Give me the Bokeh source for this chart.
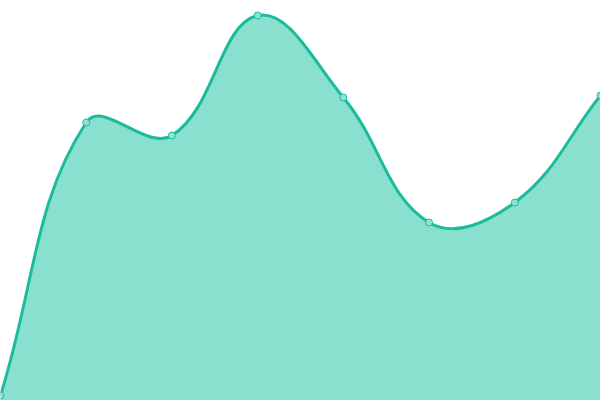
import math
import numpy as np
from bokeh.plotting import figure
from bokeh.models import Range1d, ColumnDataSource
from bokeh.embed import file_html
from bokeh.resources import INLINE

# ---- data ----
x_values = [0, 1, 2, 3, 4, 5, 6, 7]
y_values = [1.25, 69.5, 66.25, 96.25, 75.75, 44.5, 49.5, 76.25]

# ---- layout / style ----
W, H = 600, 400
X0, X1 = 0, 7
Y0, Y1 = 0, 100
TENSION = 0.4
LINE_COLOR = "#1abc9c"
FILL_COLOR = "#8ae0cf"
POINT_FILL = "#90e2d2"


def to_px(x, y):
    return ((x - X0) / (X1 - X0) * W, (y - Y0) / (Y1 - Y0) * H)


def to_data(px, py):
    return (X0 + px / W * (X1 - X0), Y0 + py / H * (Y1 - Y0))


pts = [to_px(x, y) for x, y in zip(x_values, y_values)]
n = len(pts)
cp_prev, cp_next = [], []
for i in range(n):
    prev = pts[i - 1] if i > 0 else pts[i]
    cur = pts[i]
    nxt = pts[i + 1] if i < n - 1 else pts[i]
    d01 = math.hypot(cur[0] - prev[0], cur[1] - prev[1])
    d12 = math.hypot(nxt[0] - cur[0], nxt[1] - cur[1])
    s = d01 + d12
    s01 = d01 / s if s else 0
    s12 = d12 / s if s else 0
    fa = TENSION * s01
    fb = TENSION * s12
    cpp = (cur[0] - fa * (nxt[0] - prev[0]), cur[1] - fa * (nxt[1] - prev[1]))
    cpn = (cur[0] + fb * (nxt[0] - prev[0]), cur[1] + fb * (nxt[1] - prev[1]))
    clamp = lambda p: (min(max(p[0], 0), W), min(max(p[1], 0), H))
    cp_prev.append(clamp(cpp))
    cp_next.append(clamp(cpn))

# bezier segments in data space
seg = dict(x0=[], y0=[], x1=[], y1=[], cx0=[], cy0=[], cx1=[], cy1=[])
xs, ys = [], []
t = np.linspace(0, 1, 80)
for i in range(n - 1):
    P0, C1, C2, P3 = pts[i], cp_next[i], cp_prev[i + 1], pts[i + 1]
    a = to_data(*P0); b = to_data(*C1); c = to_data(*C2); d = to_data(*P3)
    seg["x0"].append(a[0]); seg["y0"].append(a[1])
    seg["cx0"].append(b[0]); seg["cy0"].append(b[1])
    seg["cx1"].append(c[0]); seg["cy1"].append(c[1])
    seg["x1"].append(d[0]); seg["y1"].append(d[1])
    tt = t if i == 0 else t[1:]
    bx = (1 - tt) ** 3 * a[0] + 3 * (1 - tt) ** 2 * tt * b[0] + 3 * (1 - tt) * tt ** 2 * c[0] + tt ** 3 * d[0]
    by = (1 - tt) ** 3 * a[1] + 3 * (1 - tt) ** 2 * tt * b[1] + 3 * (1 - tt) * tt ** 2 * c[1] + tt ** 3 * d[1]
    xs.extend(bx.tolist()); ys.extend(by.tolist())

p = figure(width=W, height=H, x_range=Range1d(X0, X1), y_range=Range1d(Y0, Y1),
           output_backend="svg", toolbar_location=None, min_border=0,
           x_axis_type=None, y_axis_type=None)
p.outline_line_color = None
p.background_fill_color = "white"
p.border_fill_color = "white"
p.grid.visible = False

p.varea(x=xs, y1=[Y0] * len(xs), y2=ys, fill_color=FILL_COLOR, fill_alpha=1.0)
p.bezier(source=ColumnDataSource(seg), x0="x0", y0="y0", x1="x1", y1="y1",
         cx0="cx0", cy0="cy0", cx1="cx1", cy1="cy1",
         line_color=LINE_COLOR, line_width=3)
p.scatter(x=x_values, y=y_values, size=7, marker="circle",
          fill_color=POINT_FILL, line_color=LINE_COLOR, line_width=1)

open("out.html", "w").write(file_html(p, INLINE))
